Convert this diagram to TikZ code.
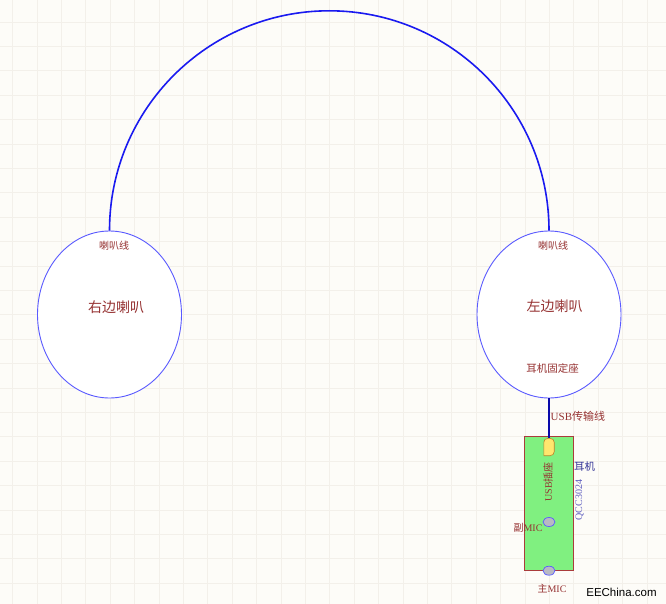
\documentclass[tikz,border=0pt]{standalone}
\usepackage{fontspec}
\setmainfont{Liberation Serif}
\newfontfamily\cjk{Noto Sans CJK SC}
\newfontfamily\eesans{Liberation Sans}
\usetikzlibrary{shapes.geometric}
\definecolor{bgcol}{RGB}{253,252,248}
\definecolor{gridcol}{RGB}{243,240,234}
\definecolor{arcblue}{RGB}{26,26,240}
\definecolor{ellblue}{RGB}{90,90,255}
\definecolor{txtred}{RGB}{150,50,50}
\definecolor{txtblue}{RGB}{50,50,150}
\definecolor{qccblue}{RGB}{96,96,192}
\definecolor{boardgreen}{RGB}{128,240,128}
\definecolor{boardedge}{RGB}{170,60,60}
\definecolor{usbyellow}{RGB}{255,230,110}
\definecolor{usbedge}{RGB}{190,130,40}
\definecolor{micgrey}{RGB}{185,185,195}
\definecolor{wireblue}{RGB}{10,10,170}
\tikzset{
  gridline/.style={draw=gridcol, line width=0.6pt},
  speaker/.style={ellipse, draw=ellblue, line width=0.9pt, fill=white, inner sep=0pt, minimum width=144pt, minimum height=167pt},
  mic/.style={ellipse, draw=ellblue, line width=0.7pt, fill=micgrey, inner sep=0pt, minimum width=12pt, minimum height=9pt},
  lbl/.style={text=txtred, inner sep=0pt},
}
\begin{document}
\begin{tikzpicture}[x=1pt,y=-1pt]
\useasboundingbox (0,0) rectangle (666,604);
\fill[bgcol] (0,0) rectangle (666,604);
\foreach \i in {0,...,26} \draw[gridline] ({12.5+24.4*\i},0) -- ({12.5+24.4*\i},604);
\foreach \j in {0,...,24} \draw[gridline] (0,{21.9+24.4*\j}) -- (666,{21.9+24.4*\j});

% speakers
\node[speaker] (rs) at (109.5,314.5) {};
\node[speaker] (ls) at (549,314.5) {};

% headband arc
\draw[arcblue, line width=1.6pt] (rs.north) arc[start angle=180, end angle=360, radius=219.75];

% board
\node[draw=boardedge, fill=boardgreen, line width=0.8pt, minimum width=49pt, minimum height=134pt, inner sep=0pt] (board) at (548.8,503.7) {};
\node[minimum width=10pt, minimum height=17pt, inner sep=0pt] (usb) at (549,447) {};
\filldraw[draw=usbedge, fill=usbyellow, line width=0.6pt, rounded corners=4pt] (usb.south west) -- (usb.north west) -- (usb.north east) -- (usb.south east) [sharp corners] -- cycle;
\draw[wireblue, line width=1.3pt] (ls.south) -- (usb.north);

\node[mic] (mic2) at (549,522) {};
\node[mic] (mic1) at (549,570.7) {};

% texts
\node[lbl, font=\cjk\fontsize{10}{12}\selectfont] (rwire) at (114,246) {喇叭线};
\node[lbl, font=\cjk\fontsize{10}{12}\selectfont] (lwire) at (553,246) {喇叭线};
\node[lbl, font=\cjk\fontsize{14}{16}\selectfont] (rname) at (116,307) {右边喇叭};
\node[lbl, font=\cjk\fontsize{14}{16}\selectfont] (lname) at (554.5,306.5) {左边喇叭};
\node[lbl, font=\cjk\fontsize{10.5}{12}\selectfont] (seat) at (552.5,368.3) {耳机固定座};
\node[lbl, anchor=west, font=\fontsize{11}{13}\selectfont] (cable) at (550.5,416.7) {USB{\cjk 传输线}};
\node[lbl, rotate=90, font=\fontsize{10}{12}\selectfont] (usbtxt) at (548,482) {USB{\cjk 插座}};
\node[text=txtblue, inner sep=0pt, anchor=west, font=\cjk\fontsize{10.5}{12}\selectfont] (ej) at (574,467) {耳机};
\node[text=qccblue, inner sep=0pt, rotate=90, font=\fontsize{10}{12}\selectfont] (qcc) at (579.5,500) {QCC3024};
\node[lbl, font=\fontsize{10}{12}\selectfont] (m2txt) at (528,527.7) {{\cjk 副}MIC};
\node[lbl, font=\fontsize{10}{12}\selectfont] (m1txt) at (552,589) {{\cjk 主}MIC};
\node[text=black, inner sep=0pt, font=\eesans\fontsize{11.5}{13}\selectfont] (ee) at (621.5,592) {EEChina.com};
\end{tikzpicture}
\end{document}
